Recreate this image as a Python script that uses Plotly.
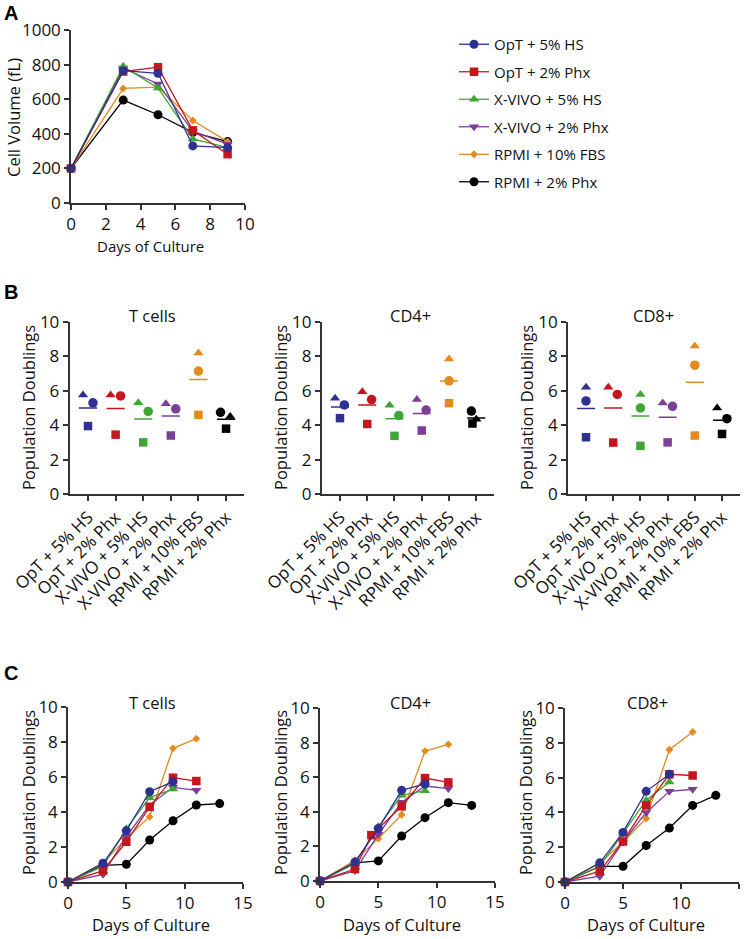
import plotly.graph_objects as go

W, H = 746, 939
FONT = "Open Sans"

# ---------------- data ----------------
CONDITIONS = ["OpT + 5% HS", "OpT + 2% Phx", "X-VIVO + 5% HS",
              "X-VIVO + 2% Phx", "RPMI + 10% FBS", "RPMI + 2% Phx"]
COLORS = ["#2E3192", "#C4161C", "#3FA535", "#7B3F98", "#E38B1E", "#000000"]
SYMBOLS = ["circle", "square", "triangle-up", "triangle-down", "diamond", "circle"]

# Panel A: cell volume (fL)
DAYS_A = [0, 3, 5, 7, 9]
A_OPT_HS = [200, 765, 750, 330, 320]
A_OPT_PHX = [200, 760, 785, 420, 282]
A_XV_HS = [200, 790, 665, 370, 320]
A_XV_PHX = [200, 780, 688, 415, 340]
A_RPMI_FBS = [200, 662, 670, 477, 355]
A_RPMI_PHX = [200, 595, 510, 408, 355]

# Panel B: population doublings per donor (triangle, circle, square donors)
B_T_TRI = [5.75, 5.75, 5.3, 5.25, 8.2, 4.5]
B_T_CIR = [5.3, 5.7, 4.8, 4.95, 7.15, 4.75]
B_T_SQ = [3.95, 3.45, 3.0, 3.4, 4.6, 3.8]
B_CD4_TRI = [5.57, 5.95, 5.16, 5.49, 7.85, 4.35]
B_CD4_CIR = [5.18, 5.49, 4.57, 4.88, 6.58, 4.82]
B_CD4_SQ = [4.41, 4.07, 3.38, 3.69, 5.28, 4.1]
B_CD8_TRI = [6.2, 6.2, 5.79, 5.29, 8.61, 5.0]
B_CD8_CIR = [5.41, 5.79, 5.0, 5.1, 7.49, 4.38]
B_CD8_SQ = [3.3, 2.99, 2.8, 3.0, 3.4, 3.49]

# horizontal scatter offsets (styling of the dot plot)
JIT_T = {"tri": [-0.18, -0.18, -0.18, -0.18, 0, 0.15],
         "cir": [0.18, 0.18, 0.18, 0.18, 0, -0.2],
         "sq": [0, 0, 0, 0, 0, 0]}
JIT_CD4 = {"tri": [-0.18, -0.18, -0.18, -0.18, 0, 0],
           "cir": [0.16, 0.16, 0.16, 0.16, 0, -0.18],
           "sq": [0, 0, 0, 0, 0, -0.14]}
JIT_CD8 = {"tri": [0, -0.18, 0, -0.18, 0, -0.18],
           "cir": [0, 0.15, 0, 0.18, 0, 0.18],
           "sq": [0, 0, 0, 0, 0, 0]}

# Panel C: cumulative population doublings
DAYS_C = [0, 3, 5, 7, 9, 11, 13]
C_T = {
    "OPT_HS": [0, 1.07, 2.93, 5.16, 5.73],
    "OPT_PHX": [0, 0.65, 2.3, 4.29, 5.96, 5.77],
    "XV_HS": [0, 0.9, 3.05, 4.82, 5.31],
    "XV_PHX": [0, 0.44, 2.6, 4.4, 5.41, 5.24],
    "RPMI_FBS": [0, 1.1, 2.5, 3.73, 7.64, 8.19],
    "RPMI_PHX": [0, 0.95, 1.01, 2.4, 3.5, 4.4, 4.48],
}
C_CD4 = {
    "OPT_HS": [0, 1.1, 3.04, 5.24, 5.61],
    "OPT_PHX": [0, 0.69, 2.65, 4.32, 5.95, 5.7],
    "XV_HS": [0, 1.0, 3.15, 4.95, 5.22],
    "XV_PHX": [0, 0.6, 2.7, 4.55, 5.49, 5.34],
    "RPMI_FBS": [0, 1.2, 2.45, 3.83, 7.51, 7.9],
    "RPMI_PHX": [0, 1.05, 1.16, 2.6, 3.66, 4.53, 4.37],
}
C_CD4_OPT_PHX_DAYS = [0, 3, 4.4, 7, 9, 11]
C_CD8 = {
    "OPT_HS": [0, 1.1, 2.85, 5.21, 6.19],
    "OPT_PHX": [0, 0.62, 2.33, 4.4, 6.19, 6.12],
    "XV_HS": [0, 0.9, 2.8, 4.7, 5.75],
    "XV_PHX": [0, 0.33, 2.3, 4.0, 5.21, 5.33],
    "RPMI_FBS": [0, 1.1, 2.3, 3.65, 7.6, 8.62],
    "RPMI_PHX": [0, 0.9, 0.9, 2.1, 3.1, 4.4, 4.98],
}
KEYS = ["OPT_HS", "OPT_PHX", "XV_HS", "XV_PHX", "RPMI_FBS", "RPMI_PHX"]

# ---------------- helpers ----------------
def px_x(p):
    return p / W

def px_y(p):
    return 1 - p / H

AX = dict(showline=True, linecolor="#333", linewidth=1.5, ticks="outside",
          ticklen=5, tickwidth=1.5, tickcolor="#333", showgrid=False,
          zeroline=False, automargin=False,
          tickfont=dict(size=17, color="#111", family=FONT))

fig = go.Figure()
layout = {}

def add_axes(n, xdom, ydom, xr, yr, xtick=None, ytick=None, xkw=None):
    xs = "xaxis" if n == 1 else f"xaxis{n}"
    ys = "yaxis" if n == 1 else f"yaxis{n}"
    xa = dict(AX, domain=[px_x(xdom[0]), px_x(xdom[1])], range=xr,
              anchor=("y" if n == 1 else f"y{n}"))
    ya = dict(AX, domain=[px_y(ydom[1]), px_y(ydom[0])], range=yr,
              anchor=("x" if n == 1 else f"x{n}"))
    if xtick is not None:
        xa["dtick"] = xtick
    if ytick is not None:
        ya["dtick"] = ytick
    if xkw:
        xa.update(xkw)
    layout[xs] = xa
    layout[ys] = ya
    return ("x" if n == 1 else f"x{n}"), ("y" if n == 1 else f"y{n}")

MSIZE = {"circle": 9, "square": 8.5, "triangle-up": 9, "triangle-down": 9, "diamond": 6}

annotations = []

def note(text, x, y, size=16.5, angle=0, family=FONT, color="#111"):
    annotations.append(dict(text=text, x=px_x(x), y=px_y(y), xref="paper", yref="paper",
                            xanchor="center", yanchor="middle", showarrow=False,
                            textangle=angle, font=dict(size=size, family=family, color=color)))

# ---------------- Panel A ----------------
xa, ya = add_axes(1, (71, 245), (30, 203), [0, 10], [0, 1000], 2, 200)
A_SERIES = [A_OPT_HS, A_OPT_PHX, A_XV_HS, A_XV_PHX, A_RPMI_FBS, A_RPMI_PHX]
for i in reversed(range(6)):
    fig.add_trace(go.Scatter(
        x=DAYS_A, y=A_SERIES[i], mode="lines+markers", name=CONDITIONS[i],
        line=dict(color=COLORS[i], width=1.3),
        marker=dict(symbol=SYMBOLS[i], size=MSIZE[SYMBOLS[i]], color=COLORS[i]),
        xaxis=xa, yaxis=ya, cliponaxis=False, showlegend=True,
        legendgroup=f"g{i}", legendrank=i + 1))

# ---------------- Panel B ----------------
B_SETS = [
    ("T cells", B_T_TRI, B_T_CIR, B_T_SQ, JIT_T, (69.5, 244), 152),
    ("CD4+", B_CD4_TRI, B_CD4_CIR, B_CD4_SQ, JIT_CD4, (321.7, 494), 410),
    ("CD8+", B_CD8_TRI, B_CD8_CIR, B_CD8_SQ, JIT_CD8, (567.8, 739.7), 653),
]
n = 2
for title, tri, cir, sq, jit, xdom, tx in B_SETS:
    xa, ya = add_axes(n, xdom, (322, 494), [-0.67, 5.65], [0, 10], None, 2,
                      xkw=dict(tickmode="array", tickvals=list(range(6)),
                               ticktext=CONDITIONS, tickangle=-45))
    for i in range(6):
        mean = (tri[i] + cir[i] + sq[i]) / 3
        fig.add_trace(go.Scatter(x=[i - 0.33, i + 0.33], y=[mean, mean], mode="lines",
                                 line=dict(color=COLORS[i], width=1.5),
                                 xaxis=xa, yaxis=ya, showlegend=False, hoverinfo="skip"))
        for vals, key, sym, sz in ((sq, "sq", "square", 8.5), (tri, "tri", "triangle-up", 9),
                                   (cir, "cir", "circle", 9.5)):
            fig.add_trace(go.Scatter(x=[i + jit[key][i]], y=[vals[i]], mode="markers",
                                     marker=dict(symbol=sym, size=sz, color=COLORS[i]),
                                     xaxis=xa, yaxis=ya, showlegend=False, cliponaxis=False))
    note(title, tx, 315)
    n += 1

# ---------------- Panel C ----------------
C_SETS = [
    ("T cells", C_T, (68, 243), (707, 882), 152, 151),
    ("CD4+", C_CD4, (320, 495), (708, 881), 410, 402),
    ("CD8+", C_CD8, (565, 739), (708, 882), 647, 646),
]
for title, data, xdom, ydom, tx, dx in C_SETS:
    xa, ya = add_axes(n, xdom, ydom, [0, 15], [0, 10], 5, 2)
    for i in reversed(range(6)):
        vals = data[KEYS[i]]
        days = DAYS_C[:len(vals)]
        if data is C_CD4 and KEYS[i] == "OPT_PHX":
            days = C_CD4_OPT_PHX_DAYS
        fig.add_trace(go.Scatter(
            x=days, y=vals, mode="lines+markers",
            line=dict(color=COLORS[i], width=1.3),
            marker=dict(symbol=SYMBOLS[i], size=MSIZE[SYMBOLS[i]], color=COLORS[i]),
            xaxis=xa, yaxis=ya, cliponaxis=False, showlegend=False))
    note(title, tx, 702)
    note("Days of Culture", dx, 924)
    n += 1

# ---------------- axis titles & panel letters ----------------
note("Cell Volume (fL)", 13, 118, angle=-90)
for x in (28, 280, 526):
    note("Population Doublings", x, 408, angle=-90)
for x in (28, 280, 525):
    note("Population Doublings", x, 793, angle=-90)
note("Days of Culture", 150, 246, size=15)
for letter, x, y in (("A", 11, 13), ("B", 11, 292), ("C", 11, 673)):
    note(f"<b>{letter}</b>", x, y, size=20, family="Liberation Sans", color="#000")

layout.update(dict(
    width=W, height=H, margin=dict(l=0, r=0, t=0, b=0, autoexpand=False),
    paper_bgcolor="white", plot_bgcolor="white",
    font=dict(family=FONT, color="#111"),
    annotations=annotations,
    legend=dict(x=px_x(454), y=px_y(28), xanchor="left", yanchor="top",
                font=dict(size=15, family=FONT, color="#111"), tracegroupgap=5,
                bgcolor="rgba(0,0,0,0)", itemwidth=30),
))
fig.update_layout(**layout)
fig.write_html("out.html", config={"displayModeBar": False},
               post_script="document.body.style.margin='0';document.body.style.overflow='hidden';")
